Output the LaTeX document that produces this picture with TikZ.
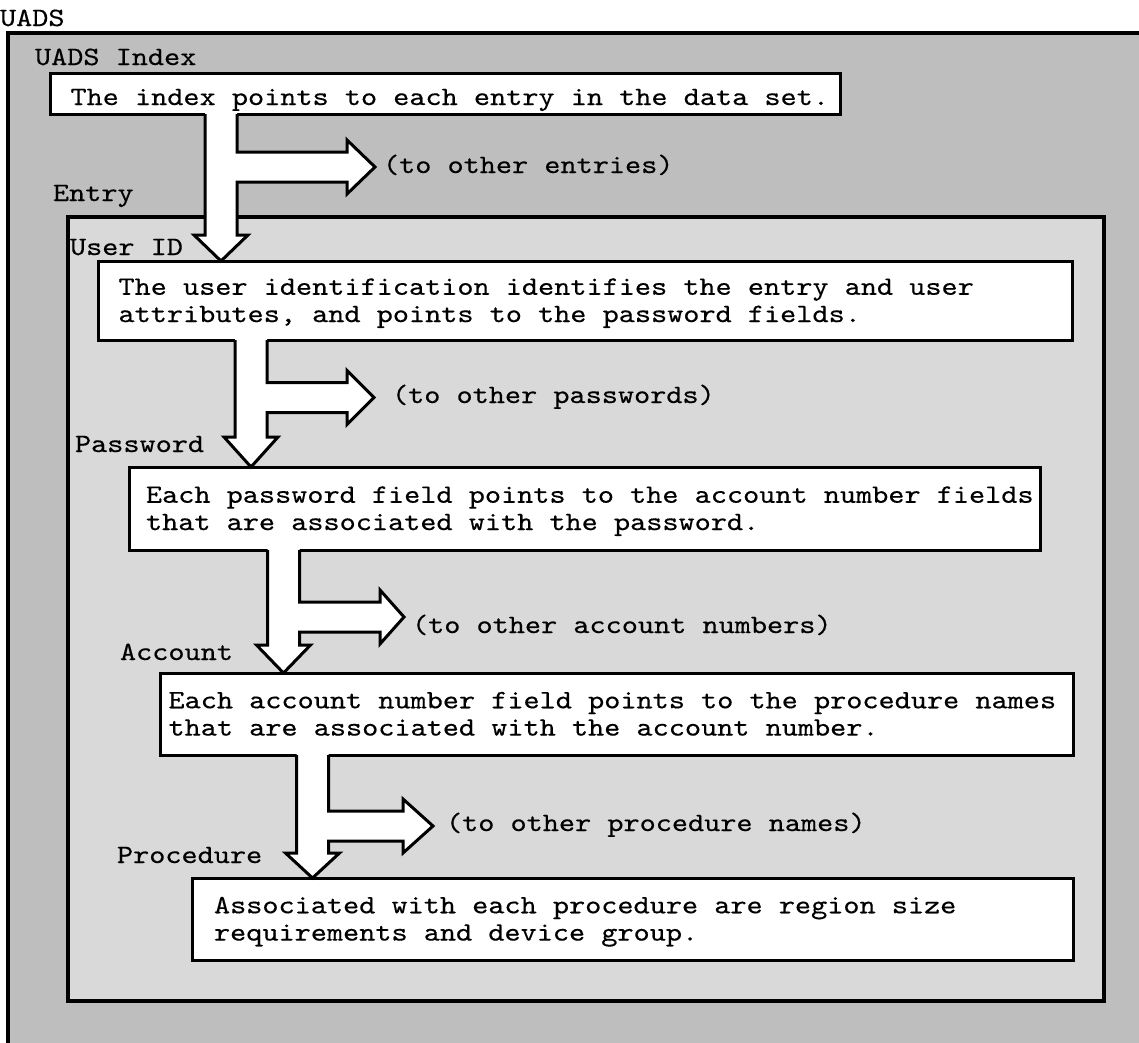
\documentclass[tikz,border=0pt]{standalone}
\usepackage{fontspec}
\newfontfamily\mono{lmmono10-regular.otf}[FakeStretch=1.16,FakeBold=0.4]
\usetikzlibrary{calc}
\definecolor{outergray}{RGB}{190,190,190}
\definecolor{innergray}{RGB}{217,217,217}
\newcommand\monospace{\spaceskip=16.14pt\xspaceskip=16.14pt\relax}
\newcommand\oneline[1]{\mbox{\monospace #1}}
% #1 source node, #2 target node, #3 shaft centre x, #4 wing y,
% #5 branch centre y, #6 side head back x, #7 side head tip x
\newcommand\fatarrow[7]{%
  \pgfmathsetmacro\fa{#3-16}\pgfmathsetmacro\fb{#3+16}%
  \pgfmathsetmacro\fwl{#3-27}\pgfmathsetmacro\fwr{#3+27}%
  \pgfmathsetmacro\fbt{#5-15}\pgfmathsetmacro\fbb{#5+15}%
  \pgfmathsetmacro\fht{#5-27}\pgfmathsetmacro\fhb{#5+27}%
  \fill[white] ($(\fa,0 |- #1.south)+(0,-3)$) -- (\fa,#4) -- (\fwl,#4) -- (#3,0 |- #2.north)
    -- (\fwr,#4) -- (\fb,#4) -- (\fb,\fbb) -- (#6,\fbb) -- (#6,\fhb) -- (#7,#5)
    -- (#6,\fht) -- (#6,\fbt) -- (\fb,\fbt) -- ($(\fb,0 |- #1.south)+(0,-3)$) -- cycle;
  \draw[fatline] (\fa,0 |- #1.south) -- (\fa,#4) -- (\fwl,#4) -- (#3,0 |- #2.north)
    -- (\fwr,#4) -- (\fb,#4) -- (\fb,\fbb) -- (#6,\fbb) -- (#6,\fhb) -- (#7,#5)
    -- (#6,\fht) -- (#6,\fbt) -- (\fb,\fbt) -- (\fb,0 |- #1.south);
}
\begin{document}
\begin{tikzpicture}[x=1pt,y=-1pt,
  every node/.style={font={\mono\fontsize{26.5}{27.3}\selectfont\monospace}},
  lbl/.style={anchor=base west,inner sep=0pt,outer sep=0pt},
  textbox/.style={draw=black,line width=3pt,fill=white,anchor=north west,
    inner ysep=0pt,outer sep=0pt,align=left,text height=20pt,text depth=31.5pt},
  framebox/.style={draw=black,line width=3.5pt,fill=innergray,anchor=north west,
    inner sep=0pt,outer sep=0pt},
  fatline/.style={draw=black,line width=3pt,line join=miter}]
\clip (0,0) rectangle (1139,1042);
\fill[white] (0,0) rectangle (1139,1042);
% outer data set frame
\draw[line width=3.5pt,fill=outergray] (8,33) rectangle (1170,1070);
\node[lbl] (uads) at (0,26) {UADS};
\node[lbl] (uadsidx) at (35,65) {UADS Index};
\node[textbox,minimum width=790pt,minimum height=41pt,inner xsep=20.5pt,
  text width=749pt,text height=23pt,text depth=0pt] (ix) at (50,73)
  {\oneline{The index points to each entry in the data set.}};
\node[lbl] (entrylbl) at (53,201) {Entry};
\node[framebox,minimum width=1036pt,minimum height=784pt] (entry) at (68,217) {};
\node[lbl] (useridlbl) at (70,255) {User ID};
\node[textbox,minimum width=974pt,minimum height=79pt,inner xsep=20.5pt,
  text width=933pt] (uid) at (98,261)
  {\oneline{The user identification identifies the entry and user}\\
   \oneline{attributes, and points to the password fields.}};
\node[lbl] (pwlbl) at (75,452) {Password};
\node[textbox,minimum width=911pt,minimum height=83pt,inner xsep=17pt,
  text width=877pt] (pw) at (129,467)
  {\oneline{Each password field points to the account number fields}\\
   \oneline{that are associated with the password.}};
\node[lbl] (acctlbl) at (120,660) {Account};
\node[textbox,minimum width=913pt,minimum height=82pt,inner xsep=8.5pt,
  text width=896pt] (acct) at (160,673)
  {\oneline{Each account number field points to the procedure names}\\
   \oneline{that are associated with the account number.}};
\node[lbl] (proclbl) at (117,863) {Procedure};
\node[textbox,minimum width=881pt,minimum height=82pt,inner xsep=22pt,
  text width=837pt] (proc) at (192,878)
  {\oneline{Associated with each procedure are region size}\\
   \oneline{requirements and device group.}};
% fat arrows
\fatarrow{ix}{uid}{221}{235}{167}{347}{375}
\fatarrow{uid}{pw}{251}{437}{397.5}{347}{374}
\fatarrow{pw}{acct}{283.5}{645}{617}{380}{404}
\fatarrow{acct}{proc}{312.5}{853}{826}{403}{433}
% side labels
\node[lbl] (l1) at (383,173) {(to other entries)};
\node[lbl] (l2) at (392,403) {(to other passwords)};
\node[lbl] (l3) at (412,633) {(to other account numbers)};
\node[lbl] (l4) at (446,831) {(to other procedure names)};
\end{tikzpicture}
\end{document}
